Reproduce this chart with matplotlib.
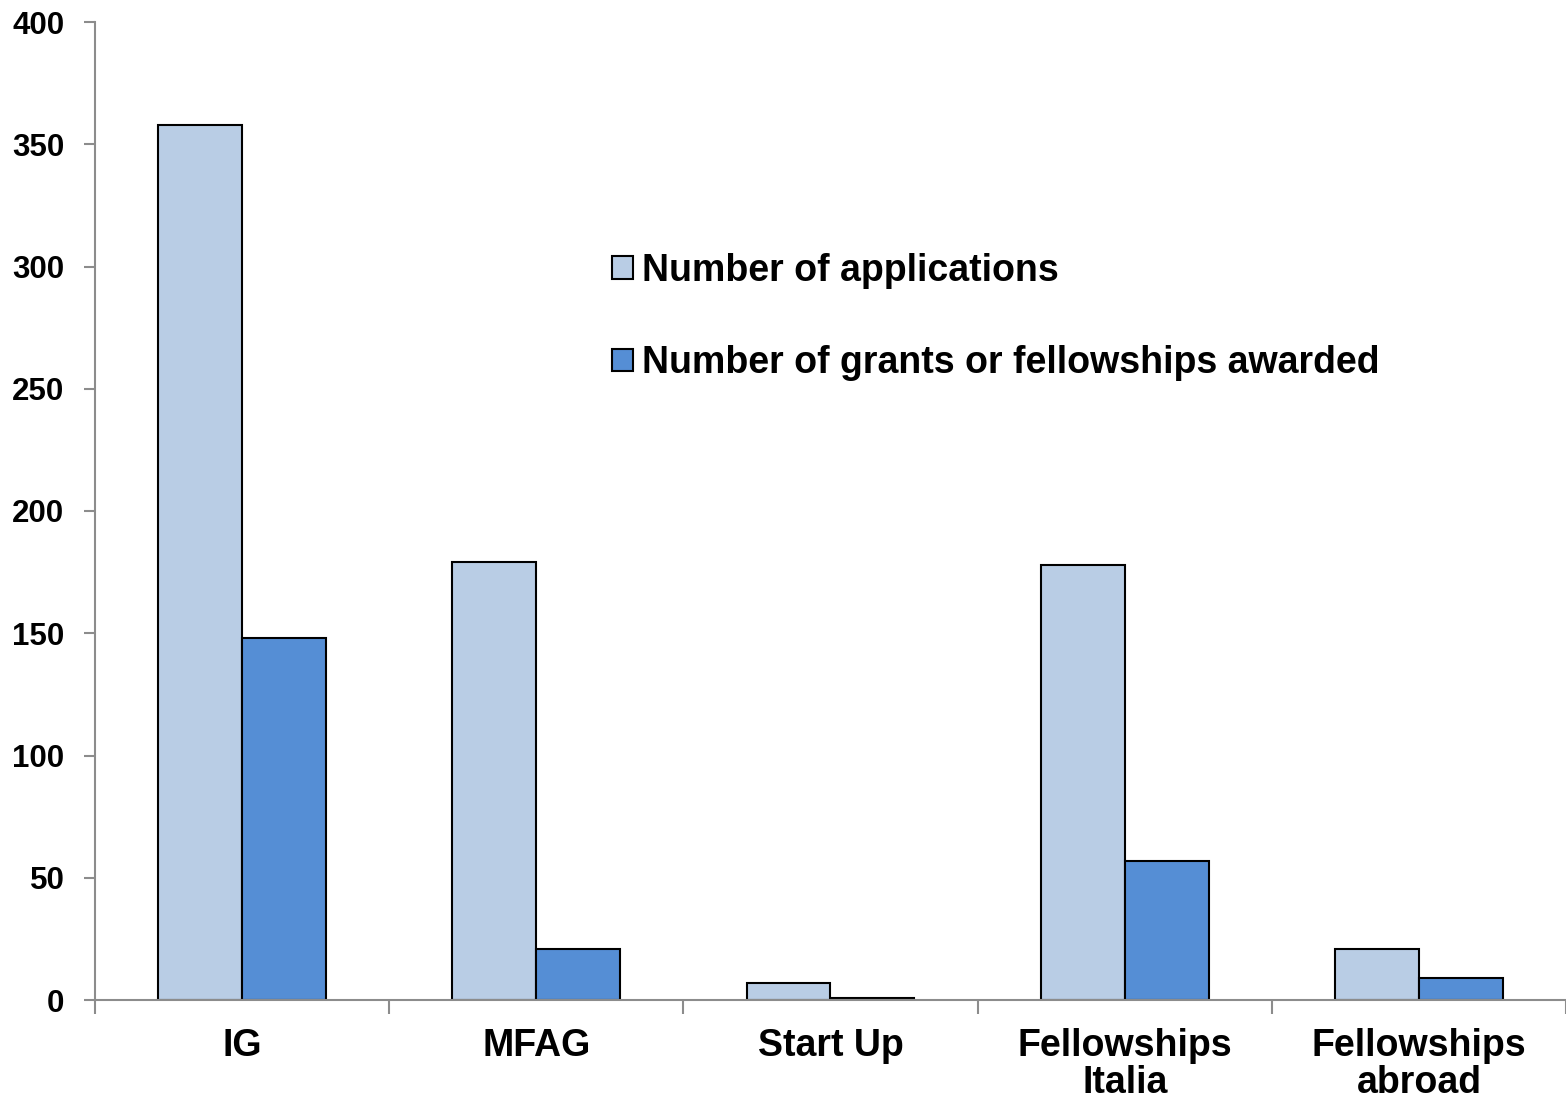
import matplotlib
import numpy as np
from matplotlib import pyplot as plt
from matplotlib.ticker import FixedLocator

matplotlib.use("Agg")

categories = ["IG", "MFAG", "Start Up", "Fellowships\nItalia", "Fellowships\nabroad"]
applications = [358, 179, 7, 178, 21]
awarded = [148, 21, 1, 57, 9]
series_names = ["Number of applications", "Number of grants or fellowships awarded"]
y_ticks = [0, 50, 100, 150, 200, 250, 300, 350, 400]

plt.rcParams["font.family"] = ["Liberation Sans", "DejaVu Sans"]
plt.rcParams["font.weight"] = "bold"

fig = plt.figure(figsize=(15.66, 11.06), dpi=100)
ax = fig.add_axes([95 / 1566, 106 / 1106, 1 - 95 / 1566, 978 / 1106])

x = np.arange(len(categories))
width = 0.285
ax.bar(x - width / 2, applications, width, color="#B9CDE5", edgecolor="black", linewidth=1.5,
       label=series_names[0], zorder=2)
ax.bar(x + width / 2, awarded, width, color="#558ED5", edgecolor="black", linewidth=1.5,
       label=series_names[1], zorder=2)

ax.set_xlim(-0.5, len(categories) - 0.5)
ax.set_ylim(0, 400)
ax.set_yticks(y_ticks)
ax.set_xticks(x)
ax.set_xticklabels(categories, fontsize=27, fontweight="bold", linespacing=1.05)
ax.xaxis.set_minor_locator(FixedLocator(np.arange(-0.5, len(categories), 1.0)))
ax.tick_params(axis="x", which="major", length=0, pad=20)
ax.tick_params(axis="x", which="minor", length=10, width=1.5, color="#8c8c8c", direction="out")
ax.tick_params(axis="y", length=8, width=1.5, color="#8c8c8c", labelsize=22.5, pad=14)
for lbl in ax.get_yticklabels():
    lbl.set_fontweight("bold")

for side in ["top", "right"]:
    ax.spines[side].set_visible(False)
for side in ["left", "bottom"]:
    ax.spines[side].set_color("#8c8c8c")
    ax.spines[side].set_linewidth(1.5)
    ax.spines[side].set_zorder(3)

ax.legend(loc="upper left", bbox_to_anchor=(0.339, 0.783), frameon=False,
          prop={"size": 27, "weight": "bold"}, handlelength=0.55, handleheight=0.55,
          handletextpad=0.25, labelspacing=1.5, borderpad=0)

fig.savefig("out.png", dpi=100)
